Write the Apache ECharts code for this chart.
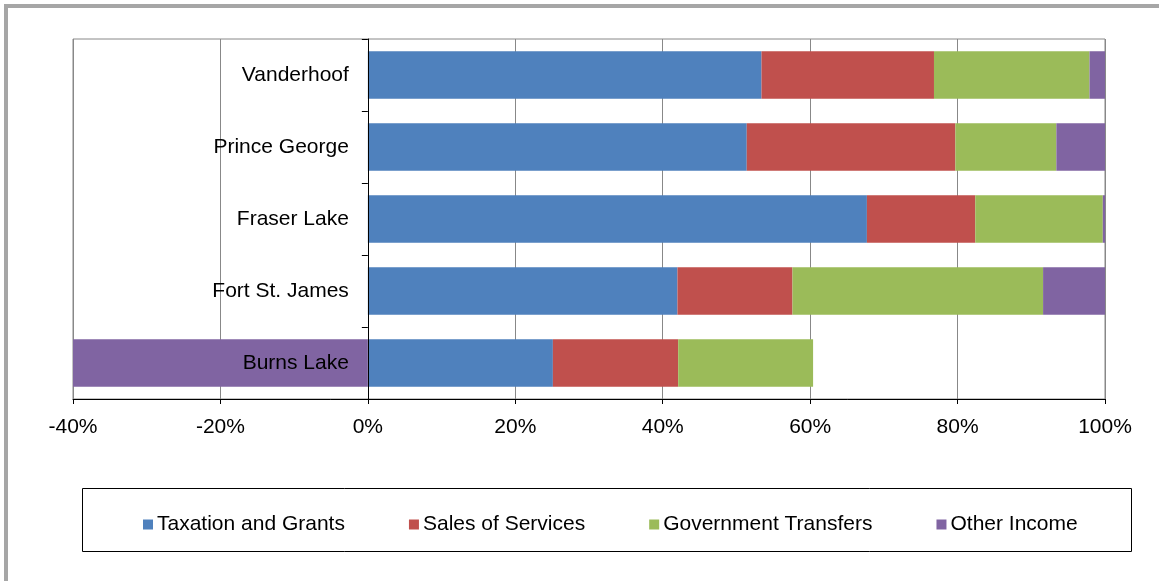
<!DOCTYPE html>
<html>
<head>
<meta charset="utf-8">
<script src="https://cdn.jsdelivr.net/npm/echarts@6/dist/echarts.min.js"></script>
<style>
  html, body { margin: 0; padding: 0; background: #fff; }
  #chart { width: 1159px; height: 581px; }
</style>
</head>
<body>
<div id="chart"></div>
<script>
// Revenue share by source for each community (percent of total)
const communities = ['Burns Lake', 'Fort St. James', 'Fraser Lake', 'Prince George', 'Vanderhoof'];
const taxationAndGrants   = [25.1, 42.0, 67.7, 51.4, 53.4];
const salesOfServices     = [17.0, 15.6, 14.7, 28.3, 23.4];
const governmentTransfers = [18.3, 34.0, 17.3, 13.7, 21.1];
const otherIncome         = [-40.0, 8.4, 0.3, 6.6, 2.1];
const seriesNames = ['Taxation and Grants', 'Sales of Services', 'Government Transfers', 'Other Income'];
const seriesColors = ['#4F81BD', '#C0504D', '#9BBB59', '#8064A2'];
const xTicks = { min: -40, max: 100, step: 20 };

const font = 'Liberation Sans, Arial, sans-serif';
const seriesData = [taxationAndGrants, salesOfServices, governmentTransfers, otherIncome];

const gridLeft = 73, gridRight = 54;
const plotWidth = 1159 - gridLeft - gridRight;
// shift the category axis (line, ticks and labels) onto the 0% position
const zeroOffset = plotWidth * (0 - xTicks.min) / (xTicks.max - xTicks.min);

const chart = echarts.init(document.getElementById('chart'), null, { renderer: 'canvas' });
chart.setOption({
  animation: false,
  backgroundColor: '#fff',
  textStyle: { fontFamily: font },
  graphic: [
    { type: 'rect', shape: { x: 6, y: 6, width: 1400, height: 800 },
      style: { fill: 'none', stroke: '#a6a6a6', lineWidth: 4 }, z: 0 },
    { type: 'rect', shape: { x: 82.5, y: 488.5, width: 1049, height: 63 },
      style: { fill: 'none', stroke: '#000', lineWidth: 1 }, z: 0 }
  ],
  grid: {
    left: gridLeft, right: gridRight, top: 39, bottom: 182,
    containLabel: false, outerBoundsMode: 'none',
    show: true, borderColor: '#888', borderWidth: 1
  },
  legend: {
    data: seriesNames,
    left: 138, top: 509,
    icon: 'rect', itemWidth: 10, itemHeight: 10, itemGap: 64,
    textStyle: { fontSize: 21, color: '#000', fontFamily: font, padding: [0, 0, 0, -1] }
  },
  xAxis: {
    type: 'value',
    min: xTicks.min, max: xTicks.max, interval: xTicks.step,
    axisLine: { show: true, lineStyle: { color: '#000', width: 1 } },
    axisTick: { show: true, length: 5, lineStyle: { color: '#000' } },
    axisLabel: { formatter: '{value}%', fontSize: 21, color: '#000', margin: 18, fontFamily: font },
    splitLine: { show: true, lineStyle: { color: '#888', width: 1 } }
  },
  yAxis: {
    type: 'category',
    data: communities,
    z: 10,
    offset: -zeroOffset,
    axisLine: { show: true, onZero: false, lineStyle: { color: '#000', width: 1 } },
    axisTick: { show: true, length: 6, lineStyle: { color: '#000' } },
    axisLabel: { fontSize: 21, color: '#000', margin: 19, fontFamily: font, padding: [3, 0, 0, 0] },
    splitLine: { show: false }
  },
  series: seriesNames.map((name, i) => ({
    name,
    type: 'bar',
    stack: 'total',
    barWidth: '66%',
    itemStyle: { color: seriesColors[i] },
    data: seriesData[i]
  }))
});
</script>
</body>
</html>
